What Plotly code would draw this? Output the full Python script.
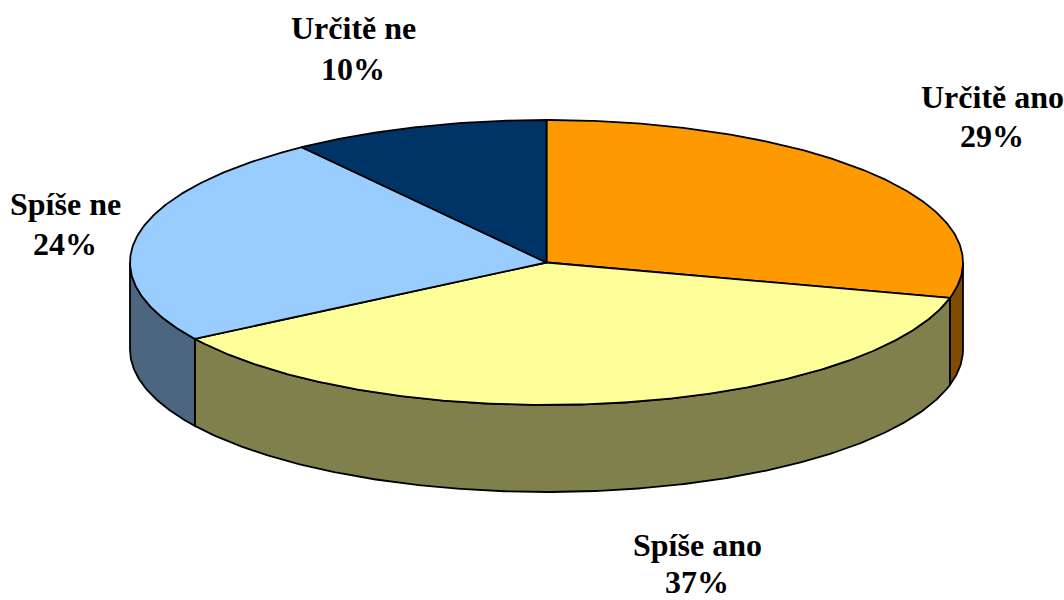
import numpy as np
import plotly.graph_objects as go

# Data (clockwise from 12 o'clock)
categories = ["Určitě ano", "Spíše ano", "Spíše ne", "Určitě ne"]
values = [29, 37, 24, 10]
top_colors = ["#FF9900", "#FFFF99", "#99CCFF", "#003366"]
side_colors = ["#7F4C00", "#80804C", "#4C667F", "#001933"]

# Geometry of the 3D pie (pixel space)
cx, cy, rx, ry, depth = 546.5, 262.5, 416.5, 142.5, 87.0


def pt(theta_deg, dy=0.0):
    t = np.radians(theta_deg)
    return cx + rx * np.sin(t), cy - ry * np.cos(t) + dy


def arc(a, b, dy=0.0, n=None):
    if n is None:
        n = max(3, int(abs(b - a) * 2))
    th = np.linspace(a, b, n)
    xs, ys = pt(th, dy)
    return list(xs), list(ys)


total = sum(values)
bounds = []
acc = 0.0
for v in values:
    a = acc / total * 360
    acc += v
    b = acc / total * 360
    bounds.append((a, b))

fig = go.Figure()
line = dict(color="black", width=1.8)

# Side faces (front half only: 90..270 deg)
for (a, b), col in zip(bounds, side_colors):
    lo, hi = max(a, 90), min(b, 270)
    if hi <= lo:
        continue
    tx, ty = arc(lo, hi)
    bx, by = arc(hi, lo, dy=depth)
    xs = tx + bx + [tx[0]]
    ys = ty + by + [ty[0]]
    fig.add_trace(go.Scatter(x=xs, y=ys, mode="lines", fill="toself",
                             fillcolor=col, line=line, hoverinfo="skip",
                             showlegend=False))

# Top faces
for (a, b), col in zip(bounds, top_colors):
    ax_, ay_ = arc(a, b)
    xs = [cx] + ax_ + [cx]
    ys = [cy] + ay_ + [cy]
    fig.add_trace(go.Scatter(x=xs, y=ys, mode="lines", fill="toself",
                             fillcolor=col, line=line, hoverinfo="skip",
                             showlegend=False))

# Labels: (x, y of name line, y of percent line)
label_pos = [(992, 97, 136), (697, 545, 582), (65, 204, 244), (353, 28, 69)]
font = dict(family="Liberation Serif, Times New Roman, serif", size=32, color="black")
for cat, v, (lx, ly1, ly2) in zip(categories, values, label_pos):
    fig.add_annotation(x=lx, y=ly1, xref="x", yref="y",
                       text=f"<b>{cat}</b>", showarrow=False,
                       font=font, xanchor="center", yanchor="middle")
    fig.add_annotation(x=lx, y=ly2, xref="x", yref="y",
                       text=f"<b>{v}%</b>", showarrow=False,
                       font=font, xanchor="center", yanchor="middle")

fig.update_layout(
    width=1064, height=600,
    margin=dict(l=0, r=0, t=0, b=0),
    paper_bgcolor="white", plot_bgcolor="white",
    xaxis=dict(range=[0, 1064], visible=False, fixedrange=True),
    yaxis=dict(range=[600, 0], visible=False, fixedrange=True),
    showlegend=False,
)

fig.write_html("out.html", config={"displayModeBar": False},
               post_script="document.body.style.margin='0px';document.body.style.overflow='hidden';")
